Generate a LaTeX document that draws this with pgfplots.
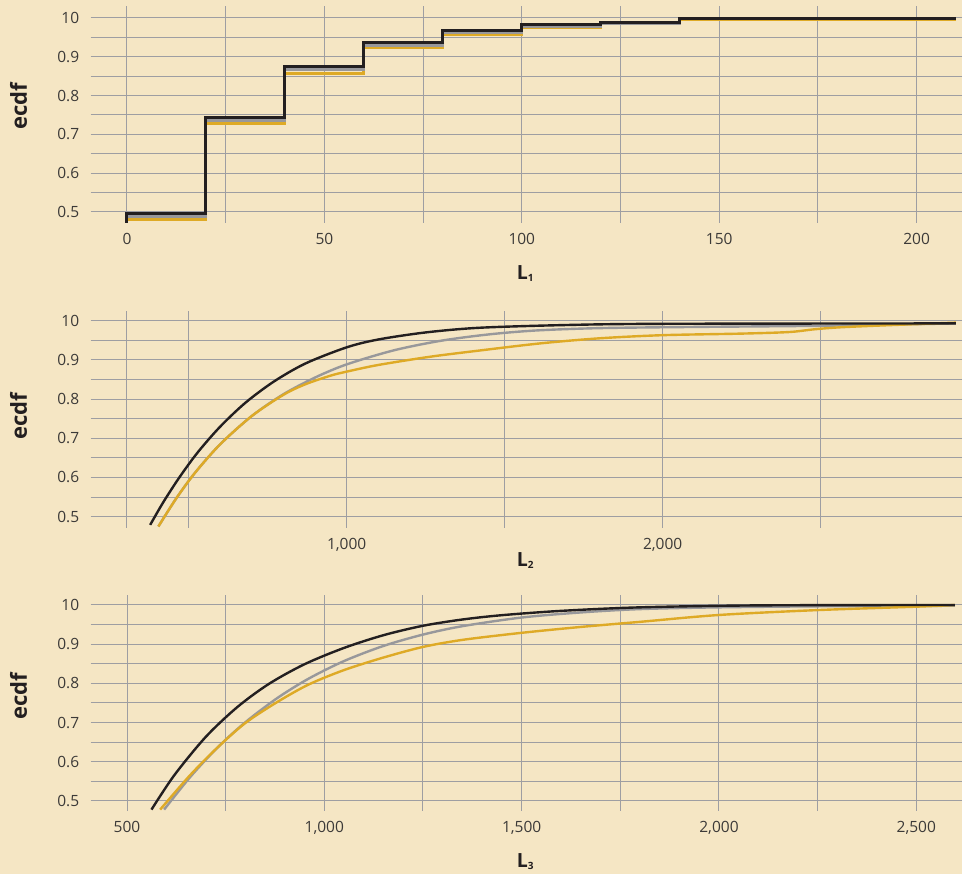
\documentclass[border=0pt]{standalone}
\usepackage{fontspec}
\setmainfont{Open Sans}
\usepackage{pgfplots}
\pgfplotsset{compat=1.18}
\definecolor{bgc}{RGB}{245,230,196}
\definecolor{gridc}{RGB}{158,158,162}
\definecolor{blk}{RGB}{35,31,32}
\definecolor{gry}{RGB}{152,152,155}
\definecolor{ylw}{RGB}{222,170,38}
\definecolor{tickc}{RGB}{60,58,56}
\pgfplotsset{panel/.style={
  scale only axis, width=871.3pt, anchor=south west,
  axis line style={draw=none}, tick style={draw=none},
  grid=both, grid style={gridc, line width=1pt}, minor grid style={gridc, line width=1pt},
  ticklabel style={font=\fontsize{15.5}{18}\selectfont, text=tickc},
  xticklabel style={yshift=-7pt}, yticklabel style={xshift=-8pt},
  ytick={0.5,0.6,0.7,0.8,0.9,1.0}, yticklabels={0.5,0.6,0.7,0.8,0.9,10},
  minor ytick={0.55,0.65,0.75,0.85,0.95},
  /pgf/number format/assume math mode=true,
}}
\begin{document}
\begin{tikzpicture}[x=1pt,y=1pt]
\useasboundingbox (0,0) rectangle (962,874);
\fill[bgc] (0,0) rectangle (962,874);
% top panel
\begin{axis}[panel, at={(90.7pt,651.3pt)}, height=216.7pt,
  xmin=-9.19, xmax=211.5, ymin=0.4724, ymax=1.0309,
  xtick={0,50,100,150,200}, xticklabels={0,50,100,150,200},
  minor xtick={25,75,125,175}]
\addplot[const plot, ylw, line width=3pt] coordinates {(0,0.4724)(0,0.481)(20,0.727)(40,0.857)(60,0.923)(80,0.958)(100,0.975)(120,0.985)(140,0.997)(210,0.997)};
\addplot[const plot, gry, line width=3pt] coordinates {(0,0.4724)(0,0.489)(20,0.737)(40,0.867)(60,0.930)(80,0.963)(100,0.979)(120,0.987)(140,0.998)(210,0.998)};
\addplot[const plot, blk, line width=3pt] coordinates {(0,0.4724)(0,0.497)(20,0.744)(40,0.875)(60,0.937)(80,0.967)(100,0.983)(120,0.988)(140,0.999)(210,0.999)};
\end{axis}
% middle panel
\begin{axis}[panel, at={(90.7pt,346.3pt)}, height=216.7pt,
  xmin=189.8, xmax=2947.4, ymin=0.4719, ymax=1.0247,
  xtick={1000,2000}, xticklabels={{1,000},{2,000}},
  minor xtick={304.6,500,1500,2500}]
\addplot[smooth, gry, line width=2.4pt] coordinates {(404,0.475)(460,0.546)(520,0.612)(600,0.685)(700,0.757)(800,0.8125)(900,0.855)(1000,0.8885)(1150,0.9245)(1300,0.949)(1450,0.965)(1600,0.975)(1800,0.981)(2100,0.984)(2500,0.987)(2928,0.993)};
\addplot[smooth, ylw, line width=2.4pt] coordinates {(404,0.475)(460,0.546)(520,0.612)(600,0.685)(700,0.757)(800,0.811)(870,0.838)(950,0.860)(1000,0.870)(1100,0.887)(1264,0.908)(1422,0.924)(1612,0.942)(1800,0.955)(2000,0.963)(2250,0.967)(2400,0.971)(2480,0.978)(2560,0.983)(2700,0.988)(2928,0.995)};
\addplot[smooth, blk, line width=2.4pt] coordinates {(378,0.479)(420,0.5375)(472,0.602)(530,0.6655)(600,0.730)(680,0.791)(770,0.845)(870,0.891)(1000,0.932)(1100,0.952)(1250,0.970)(1422,0.982)(1700,0.989)(2000,0.992)(2928,0.993)};
\end{axis}
% bottom panel
\begin{axis}[panel, at={(90.7pt,63pt)}, height=216pt,
  xmin=408, xmax=2615.8, ymin=0.4745, ymax=1.0255,
  xtick={500,1000,1500,2000,2500}, xticklabels={500,{1,000},{1,500},{2,000},{2,500}},
  minor xtick={750,1250,1750,2250}]
\addplot[smooth, gry, line width=2.4pt] coordinates {(594,0.478)(660,0.561)(730,0.637)(800,0.701)(880,0.762)(960,0.812)(1050,0.857)(1150,0.8956)(1250,0.9245)(1350,0.946)(1500,0.968)(1650,0.981)(1800,0.9895)(2000,0.994)(2300,0.997)(2598,0.998)};
\addplot[smooth, ylw, line width=2.4pt] coordinates {(584,0.478)(660,0.566)(730,0.637)(800,0.699)(880,0.752)(960,0.797)(1050,0.834)(1150,0.866)(1250,0.893)(1350,0.911)(1500,0.929)(1650,0.944)(1800,0.957)(2000,0.9745)(2250,0.987)(2500,0.9957)(2598,1.0)};
\addplot[smooth, blk, line width=2.4pt] coordinates {(562,0.478)(620,0.566)(700,0.664)(780,0.740)(860,0.799)(950,0.849)(1050,0.8905)(1150,0.923)(1250,0.947)(1350,0.963)(1450,0.974)(1600,0.985)(1800,0.994)(2100,0.999)(2598,1.0)};
\end{axis}
% labels
\foreach \yy in {768,458,178}{
  \node[rotate=90, font=\fontsize{22}{24}\selectfont\bfseries, text=blk] at (18.5,\yy) {ecdf};
}
\node[anchor=base west, inner sep=0, font=\fontsize{19.5}{20}\selectfont\bfseries, text=blk] at (516.7,594.7) {L\raisebox{-2pt}{\fontsize{10}{10}\selectfont 1}};
\node[anchor=base west, inner sep=0, font=\fontsize{19.5}{20}\selectfont\bfseries, text=blk] at (516.7,307) {L\raisebox{-2pt}{\fontsize{10}{10}\selectfont 2}};
\node[anchor=base west, inner sep=0, font=\fontsize{19.5}{20}\selectfont\bfseries, text=blk] at (516.7,6) {L\raisebox{-2pt}{\fontsize{10}{10}\selectfont 3}};
\end{tikzpicture}
\end{document}
